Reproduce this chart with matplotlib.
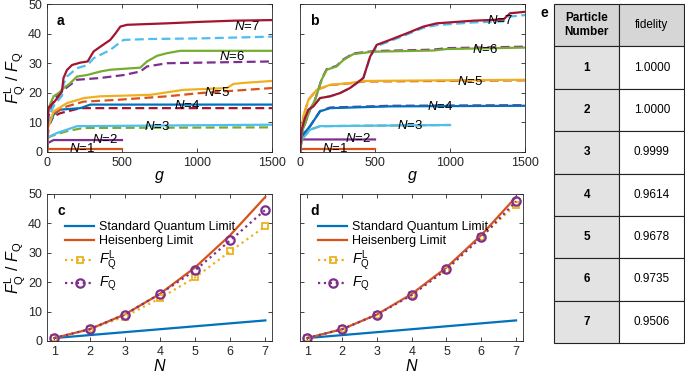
import matplotlib
matplotlib.use("Agg")
import matplotlib.pyplot as plt

plt.rcParams["font.family"] = ["Liberation Sans", "DejaVu Sans"]
plt.rcParams["mathtext.fontset"] = "custom"
plt.rcParams["mathtext.rm"] = "Liberation Sans"
plt.rcParams["mathtext.it"] = "Liberation Sans:italic"
plt.rcParams["mathtext.bf"] = "Liberation Sans:bold"

BLUE, ORANGE, YELLOW, PURPLE = "#0072BD", "#D95319", "#EDB120", "#7E2F8E"
GREEN, CYAN, RED = "#77AC30", "#4DBEEE", "#A2142F"

# ---- panel a: F_Q (solid) and F_Q^L (dashed) vs g ----
a7_g = [0, 5, 10, 30, 50, 80, 100, 110, 133, 167, 222, 271, 311, 356, 422, 455, 489, 533, 800, 1022, 1244, 1500]
a7_v = [0, 9, 15, 16, 17, 19, 20.5, 25, 27.7, 29.4, 30.2, 30.6, 34, 35.6, 37.9, 40, 42.4, 43, 43.5, 44, 44.4, 44.6]
a7L_g = [0, 5, 20, 50, 100, 111, 133, 200, 271, 311, 422, 478, 511, 689, 1022, 1500]
a7L_v = [0, 9, 13, 16, 19, 23, 25.5, 28.3, 29.4, 31.7, 34.5, 36.7, 37.9, 38.2, 38.4, 39]
a6_g = [0, 5, 20, 44, 80, 111, 150, 200, 267, 356, 422, 622, 667, 733, 800, 889, 1500]
a6_v = [11, 13, 16, 18.8, 20, 21.6, 23, 25.5, 26, 27.2, 27.8, 28.5, 30.6, 32.5, 33.4, 34.2, 34.2]
a6L_g = [0, 20, 44, 80, 111, 150, 200, 356, 511, 622, 667, 800, 1500]
a6L_v = [10, 14, 17.6, 19.5, 21, 22.5, 24.4, 25, 26, 27.2, 28.9, 30, 30.6]
a5_g = [0, 5, 20, 44, 70, 133, 200, 244, 356, 689, 911, 1200, 1244, 1300, 1500]
a5_v = [0, 8, 10, 13.7, 14.5, 16.5, 17.5, 18.2, 18.8, 19.3, 21, 21.6, 23, 23.3, 24]
a5L_g = [0, 10, 44, 133, 244, 467, 800, 1022, 1500]
a5L_v = [0, 10, 13.1, 15.4, 17, 17.6, 18.8, 19.9, 21.6]
a4_g = [0, 5, 22, 44, 89, 222, 289, 1500]
a4_v = [0, 9.5, 9.8, 12.6, 14.3, 14.8, 16, 16]
a4L_g = [0, 10, 44, 89, 222, 1500]
a4L_v = [0, 9, 12, 13.1, 14.8, 14.8]
a3_g = [0, 3, 22, 67, 133, 200, 1500]
a3_v = [0, 5, 5.3, 6.4, 7.5, 8.7, 9.2]
a3L_g = [0, 10, 67, 133, 244, 1500]
a3L_v = [0, 5, 6, 7, 8.1, 8.3]
a2_g = [0, 5, 44, 500]
a2_v = [0, 3, 4, 4]
a1_g = [0, 500]
a1_v = [1, 1]

# ---- panel b ----
b7_g = [0, 11, 33, 56, 89, 133, 200, 267, 333, 378, 422, 467, 511, 600, 711, 822, 911, 1156, 1356, 1400, 1500]
b7_v = [0, 7.5, 11.5, 14.3, 15.4, 18.2, 18.8, 19.9, 21.6, 23.3, 25, 32.2, 36.2, 37.9, 40.1, 42.4, 43.5, 44.4, 44.8, 46.9, 47.4]
b7L_v = [0, 7.5, 11.5, 14.3, 15.4, 18.2, 18.8, 19.9, 21.6, 23.3, 25, 32.0, 35.8, 37.5, 39.7, 42.0, 42.9, 43.8, 44.2, 45.8, 46.3]
b6_g = [0, 11, 67, 100, 144, 178, 244, 289, 356, 489, 889, 978, 1500]
b6_v = [0, 6.4, 14.3, 17.6, 24.4, 27.8, 28.9, 31.1, 33.1, 33.9, 34.3, 34.8, 35.3]
b6L_v = [0, 6.4, 14.3, 17.6, 24.6, 28.0, 29.1, 31.3, 33.3, 34.1, 34.6, 35.1, 35.6]
b5_g = [0, 22, 56, 111, 200, 333, 422, 1500]
b5_v = [0, 12, 17.6, 21, 22.7, 23.3, 24, 24.4]
b5L_v = [0, 12, 17.6, 21, 22.6, 23.2, 23.8, 24.2]
b4_g = [0, 11, 67, 133, 200, 600, 1500]
b4_v = [0, 5.3, 8.7, 13.7, 14.8, 15.4, 15.6]
b4L_v = [0, 5.3, 8.7, 13.8, 15.0, 15.6, 15.8]
b3_g = [0, 11, 67, 133, 1000]
b3_v = [0, 4.2, 7.5, 8.7, 9.1]
b2_g = [0, 11, 500]
b2_v = [0, 4.2, 4.2]
b1_g = [0, 500]
b1_v = [1, 1]

labels_N = ["$N$=1", "$N$=2", "$N$=3", "$N$=4", "$N$=5", "$N$=6", "$N$=7"]
lab_g = [233, 389, 733, 933, 1133, 1233, 1333]
lab_a = [1.0, 4.2, 8.6, 15.6, 20.0, 32.2, 42.4]
lab_b = [1.0, 4.4, 8.9, 15.4, 23.8, 34.5, 44.6]

# ---- panels c, d ----
N = [1, 2, 3, 4, 5, 6, 7]
sql = [1, 2, 3, 4, 5, 6, 7]
hl = [1, 4, 9, 16, 25, 36, 49]
c_fql = [1, 4, 8.3, 14.5, 21.6, 30.5, 39.0]
c_fq = [1, 4, 9.0, 16.0, 24.0, 34.2, 44.6]
d_fql = [1, 4, 9.0, 15.8, 24.2, 35.4, 46.4]
d_fq = [1, 4, 9.0, 15.6, 24.4, 35.3, 47.5]

# ---- table e ----
particles = ["1", "2", "3", "4", "5", "6", "7"]
fidelity = ["1.0000", "1.0000", "0.9999", "0.9614", "0.9678", "0.9735", "0.9506"]

FS = 8.5
YLAB = r"$F_{\mathrm{Q}}^{\mathrm{L}}$ / $F_{\mathrm{Q}}$"

fig = plt.figure(figsize=(6.85, 3.75), dpi=100)
ax_a = fig.add_axes([0.0686, 0.595, 0.3285, 0.394])
ax_b = fig.add_axes([0.438, 0.595, 0.3285, 0.394])
ax_c = fig.add_axes([0.0686, 0.0907, 0.3285, 0.392])
ax_d = fig.add_axes([0.438, 0.0907, 0.325, 0.392])
ax_e = fig.add_axes([0.809, 0.0853, 0.19, 0.904])


def style(ax, letter, ylabels=True):
    ax.tick_params(direction="in", top=True, right=True, labelsize=FS + 0.5, length=3,
                   colors="#262626", width=0.6)
    for s in ax.spines.values():
        s.set_color("#262626")
        s.set_linewidth(0.6)
    if not ylabels:
        ax.set_yticklabels([])
    ax.text(0.045, 0.93, letter, transform=ax.transAxes, fontsize=FS + 1.5,
            fontweight="bold", va="top")


lw = 1.6
dash = (0, (4, 2))

ax_a.plot(a1_g, a1_v, color=ORANGE, lw=lw)
ax_a.plot(a2_g, a2_v, color=PURPLE, lw=lw)
ax_a.plot(a3L_g, a3L_v, color=GREEN, lw=lw, ls=dash)
ax_a.plot(a3_g, a3_v, color=CYAN, lw=lw)
ax_a.plot(a4L_g, a4L_v, color=RED, lw=lw, ls=dash)
ax_a.plot(a4_g, a4_v, color=BLUE, lw=lw)
ax_a.plot(a5L_g, a5L_v, color=ORANGE, lw=lw, ls=dash)
ax_a.plot(a5_g, a5_v, color=YELLOW, lw=lw)
ax_a.plot(a6L_g, a6L_v, color=PURPLE, lw=lw, ls=dash)
ax_a.plot(a6_g, a6_v, color=GREEN, lw=lw)
ax_a.plot(a7L_g, a7L_v, color=CYAN, lw=lw, ls=dash)
ax_a.plot(a7_g, a7_v, color=RED, lw=lw)
for t, x, y in zip(labels_N, lab_g, lab_a):
    ax_a.text(x, y, t, fontsize=FS + 1, ha="center", va="center")

ax_b.plot(b1_g, b1_v, color=ORANGE, lw=lw)
ax_b.plot(b2_g, b2_v, color=PURPLE, lw=lw)
ax_b.plot(b3_g, b3_v, color=GREEN, lw=lw, ls=dash)
ax_b.plot(b3_g, b3_v, color=CYAN, lw=lw)
ax_b.plot(b4_g, b4L_v, color=PURPLE, lw=lw, ls=dash)
ax_b.plot(b4_g, b4_v, color=BLUE, lw=lw)
ax_b.plot(b5_g, b5L_v, color=ORANGE, lw=lw, ls=dash)
ax_b.plot(b5_g, b5_v, color=YELLOW, lw=lw)
ax_b.plot(b6_g, b6L_v, color=PURPLE, lw=lw, ls=dash)
ax_b.plot(b6_g, b6_v, color=GREEN, lw=lw)
ax_b.plot(b7_g, b7L_v, color=CYAN, lw=lw, ls=dash)
ax_b.plot(b7_g, b7_v, color=RED, lw=lw)
for t, x, y in zip(labels_N, lab_g, lab_b):
    ax_b.text(x, y, t, fontsize=FS + 1, ha="center", va="center")

for ax in (ax_a, ax_b):
    ax.set_xlim(0, 1500)
    ax.set_ylim(0, 50)
    ax.set_xticks([0, 500, 1000, 1500])
    ax.set_yticks([0, 10, 20, 30, 40, 50])
    ax.set_xlabel("$g$", fontsize=FS + 3, labelpad=0)
style(ax_a, "a")
style(ax_b, "b", ylabels=False)
ax_a.set_ylabel(YLAB, fontsize=FS + 3, labelpad=0)

for ax, fql, fq, letter in ((ax_c, c_fql, c_fq, "c"), (ax_d, d_fql, d_fq, "d")):
    ax.plot(N, sql, color=BLUE, lw=lw, label="Standard Quantum Limit")
    ax.plot(N, hl, color=ORANGE, lw=lw, label="Heisenberg Limit")
    ax.plot(N, fql, color=YELLOW, lw=lw, ls=":", marker="s", ms=4.5, mfc="none",
            mew=1.3, label=r"$F_{\mathrm{Q}}^{\mathrm{L}}$")
    ax.plot(N, fq, color=PURPLE, lw=lw, ls=":", marker="o", ms=6, mfc="none",
            mew=1.6, label=r"$F_{\mathrm{Q}}$")
    ax.set_xlim(0.79, 7.19)
    ax.set_ylim(0, 50)
    ax.set_xticks(N)
    ax.set_yticks([0, 10, 20, 30, 40, 50])
    ax.set_xlabel("$N$", fontsize=FS + 3, labelpad=0)
    leg = ax.legend(loc="upper left", bbox_to_anchor=(0.06, 0.85), frameon=False,
                    fontsize=FS + 0.5, handlelength=2.3, labelspacing=0.15,
                    borderaxespad=0, handletextpad=0.4)
    for t in leg.get_texts()[2:]:
        t.set_fontsize(FS + 1.5)
    style(ax, letter, ylabels=(letter == "c"))
ax_c.set_ylabel(YLAB, fontsize=FS + 3, labelpad=0)

# table
ax_e.axis("off")
cells = [[p, f] for p, f in zip(particles, fidelity)]
tab = ax_e.table(cellText=cells, colLabels=["Particle\nNumber", "fidelity"],
                 cellLoc="center", bbox=[0, 0, 1, 1])
tab.auto_set_font_size(False)
for (r, c), cell in tab.get_celld().items():
    cell.set_edgecolor("#222222")
    cell.set_linewidth(0.8)
    cell.get_text().set_fontsize(8.5)
    if r == 0:
        cell.set_facecolor("#d6d6d6")
        if c == 0:
            cell.get_text().set_fontweight("bold")
    elif c == 0:
        cell.set_facecolor("#e3e3e3")
        cell.get_text().set_fontweight("bold")
    else:
        cell.set_facecolor("white")
fig.text(0.795, 0.955, "e", fontsize=FS + 1.5, fontweight="bold", ha="center")

fig.savefig("out.png", dpi=100)
